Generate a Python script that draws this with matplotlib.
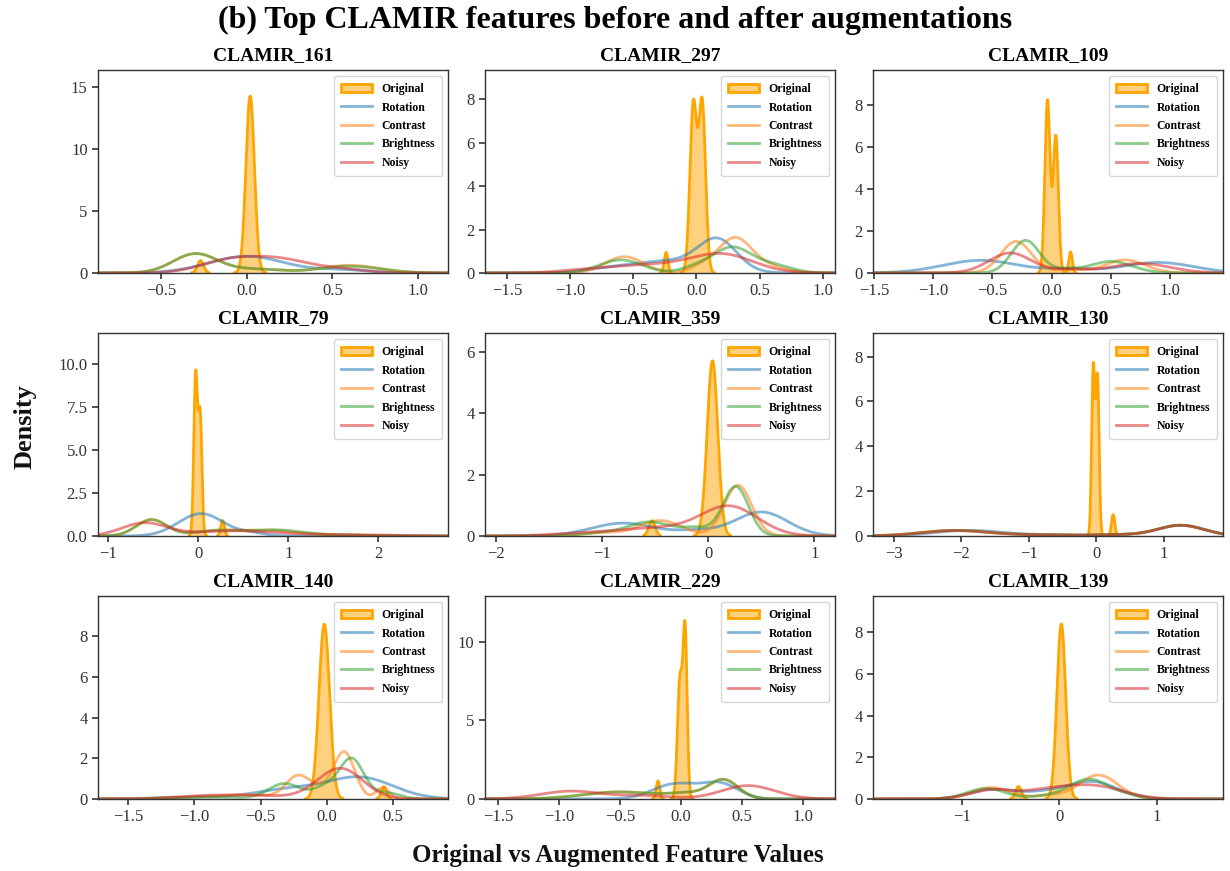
import numpy as np
import matplotlib
matplotlib.use("Agg")
import matplotlib.pyplot as plt
from matplotlib.patches import Patch
from matplotlib.lines import Line2D

plt.rcParams['font.family'] = ['Liberation Serif', 'DejaVu Serif']

# ---------------- data ----------------
features = ["CLAMIR_161", "CLAMIR_297", "CLAMIR_109",
            "CLAMIR_79", "CLAMIR_359", "CLAMIR_130",
            "CLAMIR_140", "CLAMIR_229", "CLAMIR_139"]
series = ["Original", "Rotation", "Contrast", "Brightness", "Noisy"]

x_limits = [(-0.868, 1.175), (-1.673, 1.096), (-1.51, 1.45),
            (-1.115, 2.777), (-2.104, 1.195), (-3.31, 1.88),
            (-1.727, 0.914), (-1.61, 1.264), (-1.912, 1.68)]
y_limits = [16.4, 9.34, 9.65, 11.77, 6.6, 9.05, 9.98, 12.9, 9.74]
x_ticks = [[-0.5, 0.0, 0.5, 1.0], [-1.5, -1.0, -0.5, 0.0, 0.5, 1.0],
           [-1.5, -1.0, -0.5, 0.0, 0.5, 1.0], [-1, 0, 1, 2], [-2, -1, 0, 1],
           [-3, -2, -1, 0, 1], [-1.5, -1.0, -0.5, 0.0, 0.5],
           [-1.5, -1.0, -0.5, 0.0, 0.5, 1.0], [-1, 0, 1]]
x_ticklabels = [["−0.5", "0.0", "0.5", "1.0"],
                ["−1.5", "−1.0", "−0.5", "0.0", "0.5", "1.0"],
                ["−1.5", "−1.0", "−0.5", "0.0", "0.5", "1.0"],
                ["−1", "0", "1", "2"], ["−2", "−1", "0", "1"],
                ["−3", "−2", "−1", "0", "1"],
                ["−1.5", "−1.0", "−0.5", "0.0", "0.5"],
                ["−1.5", "−1.0", "−0.5", "0.0", "0.5", "1.0"],
                ["−1", "0", "1"]]
y_ticks = [[0, 5, 10, 15], [0, 2, 4, 6, 8], [0, 2, 4, 6, 8],
           [0.0, 2.5, 5.0, 7.5, 10.0], [0, 2, 4, 6], [0, 2, 4, 6, 8],
           [0, 2, 4, 6, 8], [0, 5, 10], [0, 2, 4, 6, 8]]
y_ticklabels = [["0", "5", "10", "15"], ["0", "2", "4", "6", "8"],
                ["0", "2", "4", "6", "8"],
                ["0.0", "2.5", "5.0", "7.5", "10.0"], ["0", "2", "4", "6"],
                ["0", "2", "4", "6", "8"], ["0", "2", "4", "6", "8"],
                ["0", "5", "10"], ["0", "2", "4", "6", "8"]]

# Density peaks of every KDE curve:
# each curve = list of (peak position, peak height, peak width)
peaks_161 = {
    "Original":   [(0.02, 14.3, 0.025), (-0.27, 1.0, 0.018)],
    "Rotation":   [(0.0, 1.35, 0.22), (0.55, 0.25, 0.15)],
    "Contrast":   [(-0.3, 1.55, 0.13), (0.6, 0.62, 0.17), (0.05, 0.3, 0.15)],
    "Brightness": [(-0.3, 1.55, 0.13), (0.6, 0.55, 0.18), (0.05, 0.3, 0.15)],
    "Noisy":      [(-0.1, 1.0, 0.17), (0.2, 1.0, 0.17), (0.55, 0.3, 0.15)],
}
peaks_297 = {
    "Original":   [(-0.025, 7.7, 0.027), (0.045, 7.8, 0.027), (-0.24, 0.95, 0.015)],
    "Rotation":   [(0.17, 1.35, 0.15), (-0.2, 0.55, 0.3), (-0.7, 0.15, 0.2)],
    "Contrast":   [(-0.57, 0.75, 0.15), (0.3, 1.55, 0.13), (0.05, 0.3, 0.1), (0.55, 0.3, 0.15)],
    "Brightness": [(-0.6, 0.6, 0.17), (0.28, 1.15, 0.15), (0.6, 0.35, 0.15), (0.0, 0.25, 0.12)],
    "Noisy":      [(0.2, 0.85, 0.25), (-0.4, 0.35, 0.3), (-0.9, 0.1, 0.2)],
}
peaks_109 = {
    "Original":   [(-0.035, 8.2, 0.022), (0.035, 6.5, 0.022), (0.16, 1.0, 0.015)],
    "Rotation":   [(-0.6, 0.6, 0.32), (0.9, 0.5, 0.3), (0.15, 0.15, 0.2)],
    "Contrast":   [(-0.3, 1.5, 0.13), (0.62, 0.62, 0.17), (0.15, 0.15, 0.12)],
    "Brightness": [(-0.22, 1.55, 0.12), (0.5, 0.55, 0.18), (0.12, 0.15, 0.1)],
    "Noisy":      [(-0.35, 0.95, 0.18), (0.75, 0.45, 0.25), (0.15, 0.15, 0.15)],
}
peaks_79 = {
    "Original":   [(-0.03, 9.3, 0.02), (0.02, 7.0, 0.02), (0.27, 0.9, 0.02)],
    "Rotation":   [(0.03, 1.3, 0.25), (0.6, 0.15, 0.15)],
    "Contrast":   [(-0.52, 0.95, 0.17), (0.2, 0.3, 0.25), (0.8, 0.32, 0.3), (1.6, 0.05, 0.3)],
    "Brightness": [(-0.52, 0.95, 0.17), (0.2, 0.3, 0.25), (0.85, 0.35, 0.3), (1.6, 0.05, 0.3)],
    "Noisy":      [(-0.6, 0.75, 0.25), (0.4, 0.3, 0.45), (1.6, 0.08, 0.5)],
}
peaks_359 = {
    "Original":   [(0.04, 5.7, 0.05), (-0.53, 0.5, 0.03)],
    "Rotation":   [(-0.8, 0.42, 0.3), (0.5, 0.78, 0.25), (-0.1, 0.15, 0.2)],
    "Contrast":   [(-0.45, 0.5, 0.2), (0.28, 1.65, 0.13), (-1.0, 0.1, 0.2)],
    "Brightness": [(-0.55, 0.45, 0.2), (0.26, 1.6, 0.12), (-0.1, 0.25, 0.15), (-1.0, 0.1, 0.2)],
    "Noisy":      [(0.2, 0.95, 0.27), (-0.5, 0.25, 0.35), (-1.2, 0.08, 0.3)],
}
peaks_130 = {
    "Original":   [(-0.045, 7.5, 0.024), (0.018, 7.0, 0.024), (0.25, 0.95, 0.025)],
    "Rotation":   [(-1.9, 0.25, 0.5), (1.25, 0.48, 0.35), (-0.6, 0.05, 0.5), (0.3, 0.05, 0.3)],
    "Contrast":   [(-2.1, 0.25, 0.5), (1.25, 0.48, 0.35), (-0.8, 0.05, 0.5), (0.3, 0.05, 0.3)],
    "Brightness": [(-2.1, 0.25, 0.5), (1.25, 0.48, 0.35), (-0.8, 0.05, 0.5), (0.3, 0.05, 0.3)],
    "Noisy":      [(-2.1, 0.24, 0.5), (1.25, 0.48, 0.35), (-0.8, 0.05, 0.5), (0.3, 0.05, 0.3)],
}
peaks_140 = {
    "Original":   [(-0.02, 8.6, 0.04), (0.43, 0.6, 0.02)],
    "Rotation":   [(0.25, 1.05, 0.25), (-0.3, 0.45, 0.25), (-1.0, 0.08, 0.3)],
    "Contrast":   [(-0.22, 1.1, 0.09), (0.13, 2.3, 0.08), (0.42, 0.55, 0.05), (-0.05, 0.4, 0.08),
                   (-0.6, 0.2, 0.2), (-1.0, 0.08, 0.2)],
    "Brightness": [(-0.32, 0.75, 0.12), (0.19, 1.9, 0.09), (0.0, 0.6, 0.1), (0.45, 0.3, 0.1), (-0.9, 0.1, 0.25)],
    "Noisy":      [(0.1, 1.5, 0.17), (-0.6, 0.18, 0.3), (-1.0, 0.08, 0.2)],
}
peaks_229 = {
    "Original":   [(-0.01, 7.5, 0.02), (0.033, 10.5, 0.017), (-0.19, 1.15, 0.015)],
    "Rotation":   [(-0.05, 0.95, 0.18), (0.32, 0.95, 0.15)],
    "Contrast":   [(-0.5, 0.45, 0.3), (0.35, 1.2, 0.12), (0.05, 0.3, 0.15)],
    "Brightness": [(-0.5, 0.45, 0.3), (0.35, 1.2, 0.12), (0.05, 0.3, 0.15)],
    "Noisy":      [(-0.9, 0.5, 0.25), (0.55, 0.85, 0.22), (-0.3, 0.2, 0.2)],
}
peaks_139 = {
    "Original":   [(0.02, 8.4, 0.045), (-0.42, 0.6, 0.03)],
    "Rotation":   [(-0.7, 0.45, 0.22), (0.35, 0.8, 0.25), (-0.15, 0.3, 0.25)],
    "Contrast":   [(-0.7, 0.55, 0.2), (0.4, 1.15, 0.2), (-0.1, 0.15, 0.15)],
    "Brightness": [(-0.75, 0.5, 0.2), (0.3, 0.95, 0.2), (-0.15, 0.12, 0.15), (0.7, 0.15, 0.15)],
    "Noisy":      [(-0.7, 0.42, 0.22), (0.35, 0.62, 0.3), (-0.15, 0.35, 0.25)],
}
all_peaks = [peaks_161, peaks_297, peaks_109, peaks_79, peaks_359,
             peaks_130, peaks_140, peaks_229, peaks_139]

colors = {"Original": "#FFA500", "Rotation": "#1f77b4", "Contrast": "#ff7f0e",
          "Brightness": "#2ca02c", "Noisy": "#d62728"}

# ---------------- figure ----------------
fig = plt.figure(figsize=(12.3, 8.71), dpi=100)
col_left = [0.0797, 0.3943, 0.7098]
row_bottom = [0.6866, 0.3846, 0.0827]
ax_w, ax_h = 0.2846, 0.233


def curve(peaks, xs):
    ys = np.zeros_like(xs)
    for mu, amp, sd in peaks:
        ys += amp * np.exp(-0.5 * ((xs - mu) / sd) ** 2)
    return ys


for i, feat in enumerate(features):
    r, c = divmod(i, 3)
    ax = fig.add_axes([col_left[c], row_bottom[r], ax_w, ax_h])
    x0, x1 = x_limits[i]
    xs = np.linspace(x0, x1, 2000)
    pk = all_peaks[i]
    yo = curve(pk["Original"], xs)
    ax.fill_between(xs, 0, yo, where=yo > 0.02, color=colors["Original"],
                    alpha=0.5, linewidth=0)
    mask = yo > 0.02
    yo_line = np.where(mask | np.roll(mask, 1) | np.roll(mask, -1), yo, np.nan)
    ax.plot(xs, yo_line, color=colors["Original"], lw=2)
    for s in series[1:]:
        ax.plot(xs, curve(pk[s], xs), color=colors[s], lw=2, alpha=0.55)
    ax.set_xlim(x0, x1)
    ax.set_ylim(0, y_limits[i])
    ax.set_xticks(x_ticks[i])
    ax.set_xticklabels(x_ticklabels[i])
    ax.set_yticks(y_ticks[i])
    ax.set_yticklabels(y_ticklabels[i])
    ax.tick_params(labelsize=12, colors="#333333", length=4, width=1.2)
    for t in ax.get_xticklabels() + ax.get_yticklabels():
        t.set_color("#333333")
    for sp in ax.spines.values():
        sp.set_color("#333333")
        sp.set_linewidth(1.0)
    ax.set_title(feat, fontsize=14, fontweight="bold", pad=7)
    handles = [Patch(facecolor=(1.0, 0.647, 0.0, 0.5),
                     edgecolor=colors["Original"], linewidth=2)]
    for s in series[1:]:
        handles.append(Line2D([0], [0], color=colors[s], lw=2, alpha=0.55))
    ax.legend(handles, series, loc="upper right",
              prop={"weight": "bold", "size": 8.5}, handlelength=2.6,
              labelspacing=0.55, borderpad=0.6, framealpha=0.8)

fig.text(0.5, 0.977, "(b) Top CLAMIR features before and after augmentations",
         ha="center", va="center", fontsize=23, fontweight="bold")
fig.text(0.502, 0.018, "Original vs Augmented Feature Values",
         ha="center", va="center", fontsize=18, fontweight="bold", color="#111111")
fig.text(0.02, 0.51, "Density", ha="center", va="center", rotation=90,
         fontsize=19, fontweight="bold", color="#111111")

fig.savefig("out.png", dpi=100)
